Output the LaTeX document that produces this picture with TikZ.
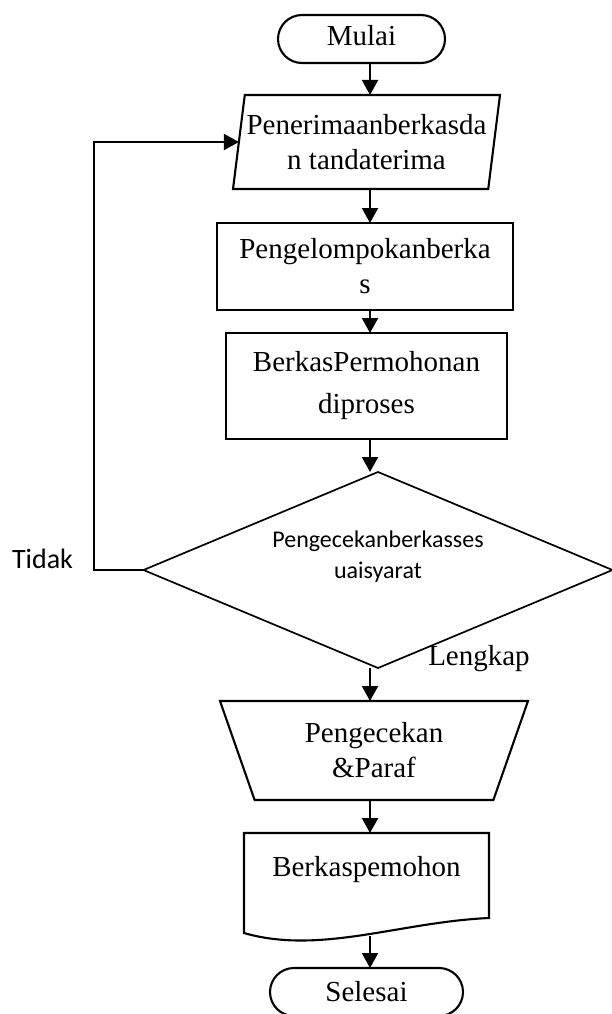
\documentclass[tikz,border=0pt]{standalone}
\usepackage{fontspec}
\setmainfont{Liberation Serif}
\newfontfamily\carl{Carlito}
\usetikzlibrary{shapes.geometric,arrows.meta,calc}
\begin{document}
\begin{tikzpicture}[x=1pt,y=-1pt,
  every node/.style={inner sep=0pt,outer sep=0pt},
  serif29/.style={font=\fontsize{29}{35}\selectfont},
  shapeline/.style={draw,line width=2.1pt},
  term/.style={shapeline,rectangle,rounded corners=24pt,minimum height=48pt,serif29},
  iobox/.style={shapeline,trapezium,trapezium stretches body=true,align=center,serif29},
  procbox/.style={shapeline,rectangle,align=center},
  decision/.style={draw,line width=1.7pt,diamond},
  flow/.style={line width=2.2pt,-{Triangle[width=16pt,length=15pt]}},
  sanslbl/.style={font=\carl\fontsize{28}{34}\selectfont}
]
\useasboundingbox (0,0) rectangle (611,1014);
\coordinate (ax) at (370,0);
\coordinate (lx) at (94,0);

\node[term,minimum width=167pt,text depth=8pt] (start) at (361.5,39) {Mulai};
\node[iobox,trapezium left angle=78,trapezium right angle=102,
      minimum width=267pt,minimum height=94pt] (recv) at (366.5,142)
      {\makebox[0pt]{Penerimaanberkasda}\\\makebox[0pt]{n tandaterima}};
\node[procbox,minimum width=296pt,minimum height=87pt,
      font=\fontsize{29}{35}\selectfont] (group) at (365,266.5)
      {Pengelompokanberka\\s};
\node[procbox,minimum width=281pt,minimum height=106pt,
      font=\fontsize{29}{42}\selectfont] (proc) at (366.5,386)
      {BerkasPermohonan\\diproses};
\node[decision,minimum width=469pt,minimum height=196pt,
      label={[align=center,font=\carl\fontsize{24}{31}\selectfont,yshift=13pt]center:{Pengecekanberkasses\\uaisyarat}}]
      (check) at (378,570) {};
\node[iobox,trapezium left angle=122,trapezium right angle=122,
      minimum width=308pt,minimum height=99pt] (sign) at (374,750.5)
      {\makebox[0pt]{Pengecekan}\\\makebox[0pt]{\&Paraf}};
\node[serif29,minimum width=245pt,minimum height=74pt] (doc) at (366.5,870) {Berkaspemohon};
\draw[shapeline] (doc.north west) -- (doc.north east) -- ($(doc.north west)+(245,85)$)
  .. controls ($(doc.north west)+(156,89)$) and ($(doc.north west)+(76,122)$) ..
  ($(doc.north west)+(0,100)$) -- cycle;
\coordinate (docend) at (370,936);
\node[term,minimum width=193pt] (end) at (366.5,992) {Selesai};

\node[sanslbl] (no) at (42.5,559) {Tidak};
\node[serif29] (yes) at (479,659) {Lengkap};

\draw[flow] (start.south -| ax) -- (recv.north -| ax);
\draw[flow] (recv.south -| ax) -- (group.north -| ax);
\draw[flow] (group.south -| ax) -- (proc.north -| ax);
\draw[flow] (proc.south -| ax) -- (check.north -| ax);
\draw[flow] (check.south -| ax) -- (sign.north -| ax);
\draw[flow] (sign.south -| ax) -- (doc.north -| ax);
\draw[flow] (docend) -- (end.north -| ax);
\draw[flow] (check.west) -- (check.west -| lx) |- (recv.west);
\end{tikzpicture}
\end{document}
